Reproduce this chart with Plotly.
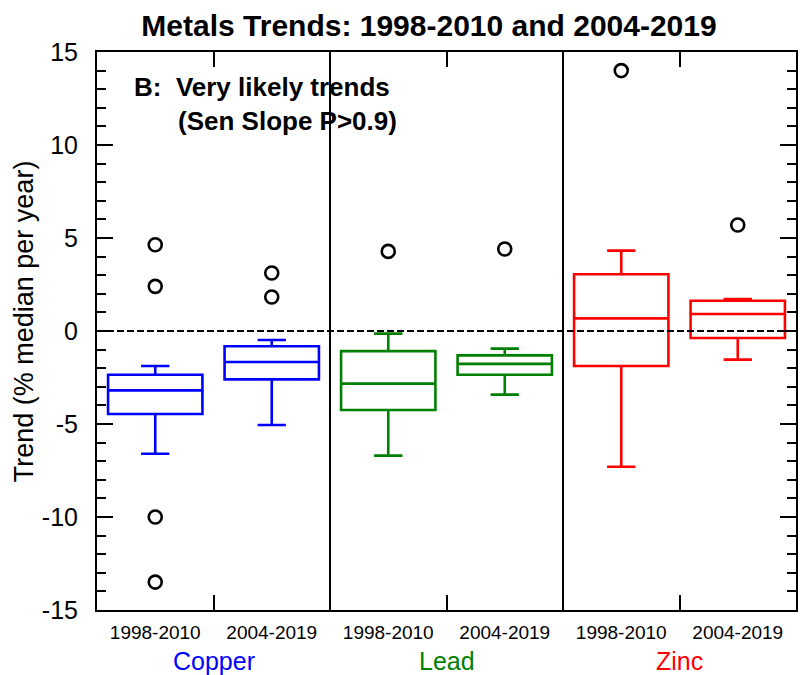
import plotly.graph_objects as go

# ---- data ----
metals = ["Copper", "Lead", "Zinc"]
metal_colors = ["#0000FF", "#008000", "#FF0000"]
periods = ["1998-2010", "2004-2019"]

# per metal: [1998-2010, 2004-2019]
upper_whisker = {"Copper": [-1.88, -0.48], "Lead": [-0.14, -0.95], "Zinc": [4.32, 1.72]}
q3_vals       = {"Copper": [-2.35, -0.82], "Lead": [-1.08, -1.31], "Zinc": [3.05, 1.63]}
median_vals   = {"Copper": [-3.19, -1.67], "Lead": [-2.83, -1.77], "Zinc": [0.68, 0.91]}
q1_vals       = {"Copper": [-4.46, -2.60], "Lead": [-4.25, -2.35], "Zinc": [-1.88, -0.38]}
lower_whisker = {"Copper": [-6.60, -5.05], "Lead": [-6.70, -3.42], "Zinc": [-7.30, -1.54]}
outliers      = {"Copper": [[4.64, 2.40, -10.0, -13.5], [3.12, 1.83]],
                 "Lead":   [[4.28], [4.41]],
                 "Zinc":   [[14.0], [5.7]]}

y_ticks = [-15, -10, -5, 0, 5, 10, 15]
y_tick_text = ["-15", "-10", "-5", "0", "5", "10", "15"]

FONT = "Liberation Sans, Arial, sans-serif"

fig = go.Figure()

for mi, m in enumerate(metals):
    xs = [2 * mi + 0.5 + k for k in range(len(periods))]
    fig.add_trace(go.Box(
        x=xs,
        q1=q1_vals[m], median=median_vals[m], q3=q3_vals[m],
        lowerfence=lower_whisker[m], upperfence=upper_whisker[m],
        width=0.81, whiskerwidth=0.3,
        line=dict(color=metal_colors[mi], width=2.6),
        fillcolor="rgba(0,0,0,0)",
        boxpoints=False, showlegend=False, name=m,
    ))
    ox, oy = [], []
    for k in range(len(periods)):
        for v in outliers[m][k]:
            ox.append(xs[k])
            oy.append(v)
    fig.add_trace(go.Scatter(
        x=ox, y=oy, mode="markers",
        marker=dict(symbol="circle-open", size=13, color="black",
                    line=dict(width=2.6, color="black")),
        showlegend=False,
    ))

# zero reference line and group separators
fig.add_hline(y=0, line=dict(color="black", width=2, dash="7px,3px"), layer="above")
for sep in range(1, len(metals)):
    fig.add_vline(x=2 * sep, line=dict(color="black", width=2), layer="above")

# group labels
for mi, m in enumerate(metals):
    fig.add_annotation(x=2 * mi + 1, y=-0.091, xref="x", yref="paper",
                       text=m, showarrow=False, yanchor="middle",
                       font=dict(family=FONT, size=25, color=metal_colors[mi]))

# panel annotation
fig.add_annotation(x=0.0505, y=0.938, xref="paper", yref="paper",
                   text="<b>B:  Very likely trends</b>", showarrow=False,
                   xanchor="left", yanchor="middle",
                   font=dict(family=FONT, size=26, color="black"))
fig.add_annotation(x=0.113, y=0.877, xref="paper", yref="paper",
                   text="<b>(Sen Slope P>0.9)</b>", showarrow=False,
                   xanchor="left", yanchor="middle",
                   font=dict(family=FONT, size=26, color="black"))

# y-axis title
fig.add_annotation(x=-0.104, y=0.518, xref="paper", yref="paper",
                   text="Trend (% median per year)", textangle=-90,
                   showarrow=False, xanchor="center", yanchor="middle",
                   font=dict(family=FONT, size=27, color="black"))

fig.update_layout(
    width=800, height=675,
    margin=dict(l=97, r=4, t=52, b=65),
    paper_bgcolor="white", plot_bgcolor="white",
    boxmode="overlay",
    title=dict(text="<b>Metals Trends: 1998-2010 and 2004-2019</b>",
               x=0.475 * 699 / 800 + 97 / 800, xanchor="center",
               y=0.962, yanchor="middle",
               font=dict(family=FONT, size=30, color="black")),
    font=dict(family=FONT, color="black"),
)

fig.update_xaxes(
    range=[0, 6],
    tickmode="array",
    tickvals=[i + 0.5 for i in range(len(metals) * len(periods))],
    ticktext=periods * len(metals),
    ticks="", tickfont=dict(family=FONT, size=19, color="black"),
    ticklabelstandoff=4,
    showline=True, linecolor="black", linewidth=2, mirror="ticks",
    showgrid=False, zeroline=False, automargin=False,
    minor=dict(tickmode="array", tickvals=[2 * i + 1 for i in range(len(metals))],
               ticks="inside", ticklen=15, tickwidth=2, tickcolor="black", showgrid=False),
)

fig.update_yaxes(
    range=[-15, 15],
    tickmode="array", tickvals=y_ticks, ticktext=y_tick_text,
    ticks="inside", ticklen=16, tickwidth=2, tickcolor="black",
    tickfont=dict(family=FONT, size=25, color="black"),
    ticklabelstandoff=12,
    showline=True, linecolor="black", linewidth=2, mirror="ticks",
    showgrid=False, zeroline=False, automargin=False,
    minor=dict(dtick=1, ticks="inside", ticklen=9, tickwidth=2, tickcolor="black", showgrid=False),
)

fig.write_html(
    "out.html",
    config={"displayModeBar": False},
    post_script="document.body.style.margin='0';document.body.style.overflow='hidden';",
)
